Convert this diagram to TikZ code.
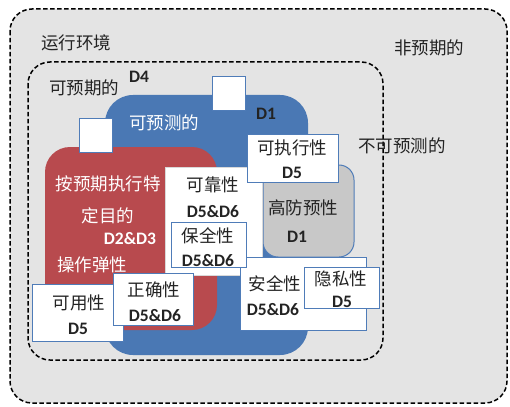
\documentclass[tikz,border=0pt]{standalone}
\usepackage{fontspec}
\newfontfamily\cjk{Noto Sans CJK SC}
\newfontfamily\lat{Carlito}
\definecolor{bgray}{RGB}{228,228,228}
\definecolor{pblue}{RGB}{74,120,180}
\definecolor{pred}{RGB}{184,74,78}
\definecolor{pgray}{RGB}{200,200,200}
\definecolor{boxblue}{RGB}{79,124,184}
\definecolor{txt}{RGB}{35,35,35}
\tikzset{
  zone/.style={draw=black, line width=1.5pt, dash pattern=on 4.5pt off 2.5pt, rounded corners=22pt},
  wbox/.style={draw=boxblue, line width=1pt, fill=white},
  lbox/.style={draw=black!15, line width=0.6pt, fill=white},
  cn/.style={font=\cjk\fontsize{17.5}{17.5}\selectfont, text=txt, inner sep=0pt},
  cnw/.style={cn, text=white},
  dd/.style={font=\lat\bfseries\fontsize{17.5}{17.5}\selectfont, text=txt, inner sep=0pt},
  ddw/.style={dd, text=white}
}
\begin{document}
\begin{tikzpicture}[x=1pt,y=-1pt]
\fill[white] (0,0) rectangle (510,406);
\useasboundingbox (0,0) rectangle (510,406);
% zones
\path[zone, fill=bgray] (10,9) rectangle (507,403);
\path[zone] (28,62) rectangle (383,360);
% main shapes
\fill[pblue, rounded corners=28pt] (105,95) rectangle (308,355);
\fill[pred, rounded corners=25pt] (45,147) rectangle (217,330);
\path[draw=boxblue, line width=1pt, fill=pgray, rounded corners=15pt] (263,165) rectangle (354,257);
% small squares
\path[wbox] (79,119) rectangle (112,152);
\path[wbox] (212,77) rectangle (245,111);
% boxes
\path[lbox] (165,167) rectangle (262,275);
\path[wbox] (247,135) rectangle (338,182);
\path[wbox] (240,257) rectangle (366,330);
\path[wbox] (171,222) rectangle (246,267);
\path[wbox] (304,267) rectangle (379,308);
\path[wbox] (32,284) rectangle (123,341);
\path[wbox] (113,273) rectangle (193,325);
% texts
\node[cn] (yxhj) at (76,43) {运行环境};
\node[cn] (fyq) at (429,48) {非预期的};
\node[cn] (kyq) at (84,88) {可预期的};
\node[dd] (d4) at (139,77) {D4};
\node[cnw] (kyc) at (164,123) {可预测的};
\node[dd] (d1a) at (266,114) {D1};
\node[cn] (bkyc) at (402,146) {不可预测的};
\node[cn] (kzx) at (292,148) {可执行性};
\node[dd] (kzxd) at (292,173) {D5};
\node[cnw] (ayq1) at (108,184) {按预期执行特};
\node[cnw] (ayq2) at (108,216) {定目的};
\node[ddw] (d23) at (130,239) {D2\&D3};
\node[cnw] (czt) at (92,265) {操作弹性};
\node[cn] (kkx) at (213,185) {可靠性};
\node[dd] (kkxd) at (213,212) {D5\&D6};
\node[cn] (bqx) at (208,236) {保全性};
\node[dd] (bqxd) at (208,261) {D5\&D6};
\node[cn] (gfy) at (303,208) {高防预性};
\node[dd] (gfyd) at (297,237) {D1};
\node[cn] (aqx) at (275,284) {安全性};
\node[dd] (aqxd) at (273,310) {D5\&D6};
\node[cn] (ysx) at (341,279) {隐私性};
\node[dd] (ysxd) at (342,302) {D5};
\node[cn] (kyx) at (79,303) {可用性};
\node[dd] (kyxd) at (78,329) {D5};
\node[cn] (zqx) at (154,290) {正确性};
\node[dd] (zqxd) at (155,316) {D5\&D6};
\end{tikzpicture}
\end{document}
